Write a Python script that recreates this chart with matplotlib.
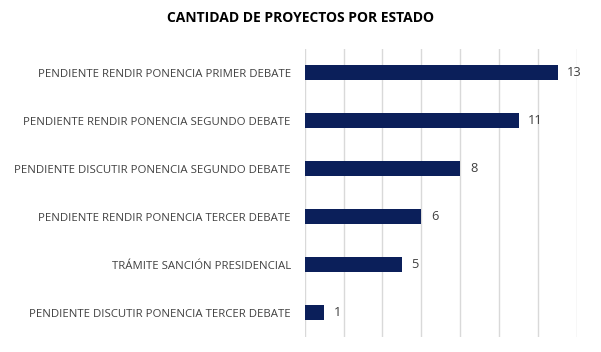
import matplotlib.pyplot as plt

estados = [
    "PENDIENTE RENDIR PONENCIA PRIMER DEBATE",
    "PENDIENTE RENDIR PONENCIA SEGUNDO DEBATE",
    "PENDIENTE DISCUTIR PONENCIA SEGUNDO DEBATE",
    "PENDIENTE RENDIR PONENCIA TERCER DEBATE",
    "TRÁMITE SANCIÓN PRESIDENCIAL",
    "PENDIENTE DISCUTIR PONENCIA TERCER DEBATE",
]
cantidad = [13, 11, 8, 6, 5, 1]

plt.rcParams["font.family"] = ["Open Sans", "DejaVu Sans"]

fig = plt.figure(figsize=(6.01, 3.52), dpi=100)
ax = fig.add_axes([0.507, 0.044, 0.453, 0.818])

pos = list(range(len(estados)))
ax.barh(pos, cantidad, height=0.31, color="#0b1f5a", zorder=3)
for p, v in zip(pos, cantidad):
    ax.text(v + 0.5, p, str(v), va="center", ha="left", fontsize=9.3, color="#404040")

ax.set_yticks(pos)
ax.set_yticklabels(estados, fontsize=8.2, color="#404040")
ax.set_ylim(len(estados) - 0.5, -0.5)
ax.set_xlim(0, 14)
ax.set_xticks(range(0, 15, 2))
ax.tick_params(axis="x", length=0, labelbottom=False)
ax.tick_params(axis="y", length=0, pad=10)
ax.grid(axis="x", color="#d9d9d9", linewidth=1, zorder=0)
for s in ax.spines.values():
    s.set_visible(False)

fig.text(0.5, 0.948, "CANTIDAD DE PROYECTOS POR ESTADO", ha="center", va="center",
         fontsize=10, fontweight="bold", color="#000000")

fig.savefig("out.png", dpi=100)
